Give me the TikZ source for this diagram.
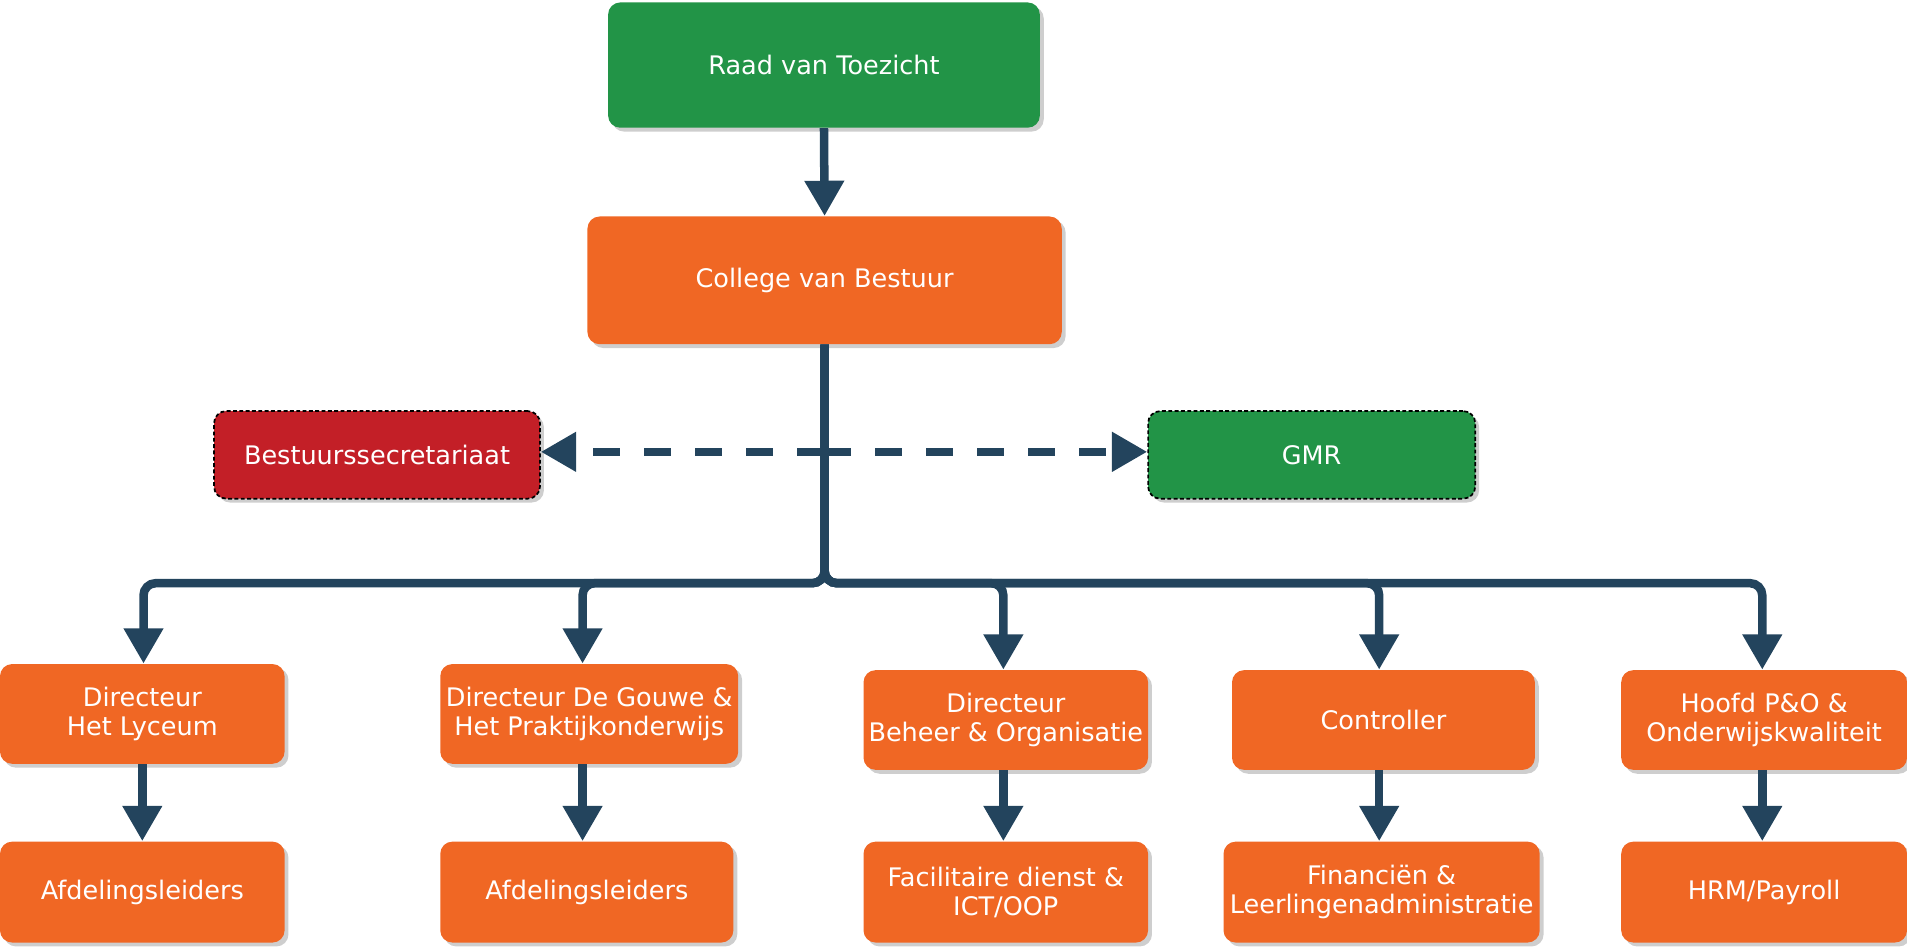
\documentclass[tikz,border=0pt]{standalone}
\usepackage{fontspec}
\setmainfont{DejaVu Sans}
\usetikzlibrary{arrows.meta,shadows,calc}
\definecolor{cgreen}{HTML}{229447}
\definecolor{corange}{HTML}{F06724}
\definecolor{cred}{HTML}{C31F27}
\definecolor{cline}{HTML}{23445D}
\begin{document}
\begin{tikzpicture}[x=0.5pt,y=-0.5pt,
  box/.style={rounded corners=5pt, text=white, align=center, inner sep=0pt,
    font=\fontsize{10.5}{12}\selectfont,
    drop shadow={shadow xshift=1.6pt,shadow yshift=-1.6pt,fill=black!55,opacity=0.35}},
  sz/.style 2 args={minimum width=#1*0.5pt, minimum height=#2*0.5pt},
  gbox/.style={box, fill=cgreen},
  obox/.style={box, fill=corange},
  rbox/.style={box, fill=cred},
  dbord/.style={draw=black, line width=0.7pt, dash pattern=on 1.6pt off 1pt},
  conn/.style={draw=cline, line width=3.5pt, rounded corners=5pt,
    -{Triangle[width=15.5pt,length=14.5pt]}},
  dconn/.style={draw=cline, line width=3.5pt, dash pattern=on 11pt off 10pt,
    -{Triangle[width=15.5pt,length=14.5pt]}}
]
\useasboundingbox (0,0) rectangle (1568,778);

% top
\node[gbox, sz={355}{103}] (raad) at (677.5,53.5) {Raad van Toezicht};
\node[obox, sz={390}{105}] (college) at (678,230.5) {College van Bestuur};

% staff
\node[rbox, dbord, sz={268}{72}] (bsec) at (310,374) {Bestuurssecretariaat};
\node[gbox, dbord, sz={269}{72}] (gmr) at (1078.5,374) {GMR};

% row 2
\node[obox, sz={234}{82}] (d1) at (117,587) {Directeur\\Het Lyceum};
\node[obox, sz={245}{82}] (d2) at (484.5,587) {Directeur De Gouwe \&\\Het Praktijkonderwijs};
\node[obox, sz={234}{82}] (d3) at (827,592) {Directeur\\Beheer \& Organisatie};
\node[obox, sz={249}{82}] (d4) at (1137.5,592) {Controller};
\node[obox, sz={235}{82}] (d5) at (1450.5,592) {Hoofd P\&O \&\\Onderwijskwaliteit};

% row 3
\node[obox, sz={234}{83}] (a1) at (117,733.5) {Afdelingsleiders};
\node[obox, sz={241}{83}] (a2) at (482.5,733.5) {Afdelingsleiders};
\node[obox, sz={234}{83}] (a3) at (827,733.5) {Facilitaire dienst \&\\ICT/OOP};
\node[obox, sz={260}{83}] (a4) at (1136,733.5) {Financiën \&\\Leerlingenadministratie};
\node[obox, sz={235}{83}] (a5) at (1450.5,733.5) {HRM/Payroll};

% coordinates
\coordinate (dm) at (677.5,371.5);
\coordinate (bx1) at (118,479.5);
\coordinate (bx2) at (479,479.5);
\coordinate (bx3) at (825,479.5);
\coordinate (bx4) at (1134,479.5);
\coordinate (bx5) at (1449,479.5);

% dashed connectors
\draw[dconn] (dm) -- (bsec.east |- dm);
\draw[dconn] (dm) -- (gmr.west |- dm);

% main connectors
\draw[conn] (raad.south) -- (college.north);
\draw[conn] (college.south) |- (bx1) -- (bx1 |- d1.north);
\draw[conn] (college.south) |- (bx2) -- (bx2 |- d2.north);
\draw[conn] (college.south) |- (bx3) -- (bx3 |- d3.north);
\draw[conn] (college.south) |- (bx4) -- (bx4 |- d4.north);
\draw[conn] (college.south) |- (bx5) -- (bx5 |- d5.north);

\draw[conn] (d1.south) -- (a1.north);
\draw[conn] (bx2 |- d2.south) -- (bx2 |- a2.north);
\draw[conn] (bx3 |- d3.south) -- (bx3 |- a3.north);
\draw[conn] (bx4 |- d4.south) -- (bx4 |- a4.north);
\draw[conn] (bx5 |- d5.south) -- (bx5 |- a5.north);
\end{tikzpicture}
\end{document}
